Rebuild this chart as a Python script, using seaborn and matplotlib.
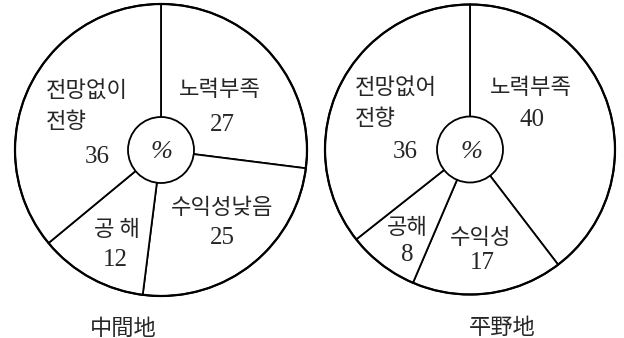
import matplotlib
matplotlib.use("Agg")
import matplotlib.pyplot as plt
import seaborn as sns
from matplotlib.patches import Circle

sns.set_theme(style="white")
plt.rcParams['font.family'] = ['Noto Sans CJK KR', 'DejaVu Sans']

# ---- data ----
region_titles = ["中間地", "平野地"]
categories_mid = ["노력부족", "수익성낮음", "공 해", "전망없이\n전향"]
values_mid = [27, 25, 12, 36]
categories_plain = ["노력부족", "수익성", "공해", "전망없어\n전향"]
values_plain = [40, 17, 8, 36]
center_label = "%"

# ---- layout (image pixel coords, y downward) ----
W, H = 624, 338
pies = [
    dict(values=values_mid, cats=categories_mid, title=region_titles[0],
         center=(161, 150), radius=146, title_pos=(123, 328),
         label_pos=[(220, 90), (222, 208), (117, 230), (46, 106)],
         num_pos=[(222, 125), (222, 238), (115, 260), (97, 157)]),
    dict(values=values_plain, cats=categories_plain, title=region_titles[1],
         center=(470, 149.5), radius=145, title_pos=(502, 328),
         label_pos=[(531, 88), (481, 237), (407, 228), (355, 103)],
         num_pos=[(532, 120), (482, 263), (407, 255), (405, 152)]),
]

fig = plt.figure(figsize=(W / 100, H / 100), dpi=100)
ax = fig.add_axes([0, 0, 1, 1])
fig.patch.set_facecolor("white")

for p in pies:
    cx, cy = p["center"]
    ax.pie(p["values"], center=(cx, H - cy), radius=p["radius"], startangle=90,
           counterclock=False, frame=True,
           wedgeprops=dict(facecolor="white", edgecolor="black", linewidth=1.3))
    ax.add_patch(Circle((cx, H - cy), p["radius"], facecolor="none",
                        edgecolor="black", linewidth=1.6, zorder=3))
    ax.add_patch(Circle((cx, H - cy), 33, facecolor="white",
                        edgecolor="black", linewidth=1.3, zorder=4))
    ax.text(cx + 1, H - cy - 2, center_label, ha="center", va="center",
            fontsize=19, style="italic", family=["Liberation Serif"], zorder=5)
    for i, (cat, v) in enumerate(zip(p["cats"], p["values"])):
        lx, ly = p["label_pos"][i]
        multiline = "\n" in cat
        ax.text(lx, H - ly, cat, ha="left" if multiline else "center",
                va="center", fontsize=16, linespacing=1.45, zorder=5)
        nx, ny = p["num_pos"][i]
        ax.text(nx, H - ny, str(v), ha="center", va="center", fontsize=18,
                family=["Liberation Serif"], zorder=5)
    tx, ty = p["title_pos"]
    ax.text(tx, H - ty, p["title"], ha="center", va="center", fontsize=16,
            zorder=5)

ax.set_xlim(0, W)
ax.set_ylim(0, H)
ax.set_aspect("equal")
ax.axis("off")

fig.savefig("out.png", dpi=100, facecolor="white")
